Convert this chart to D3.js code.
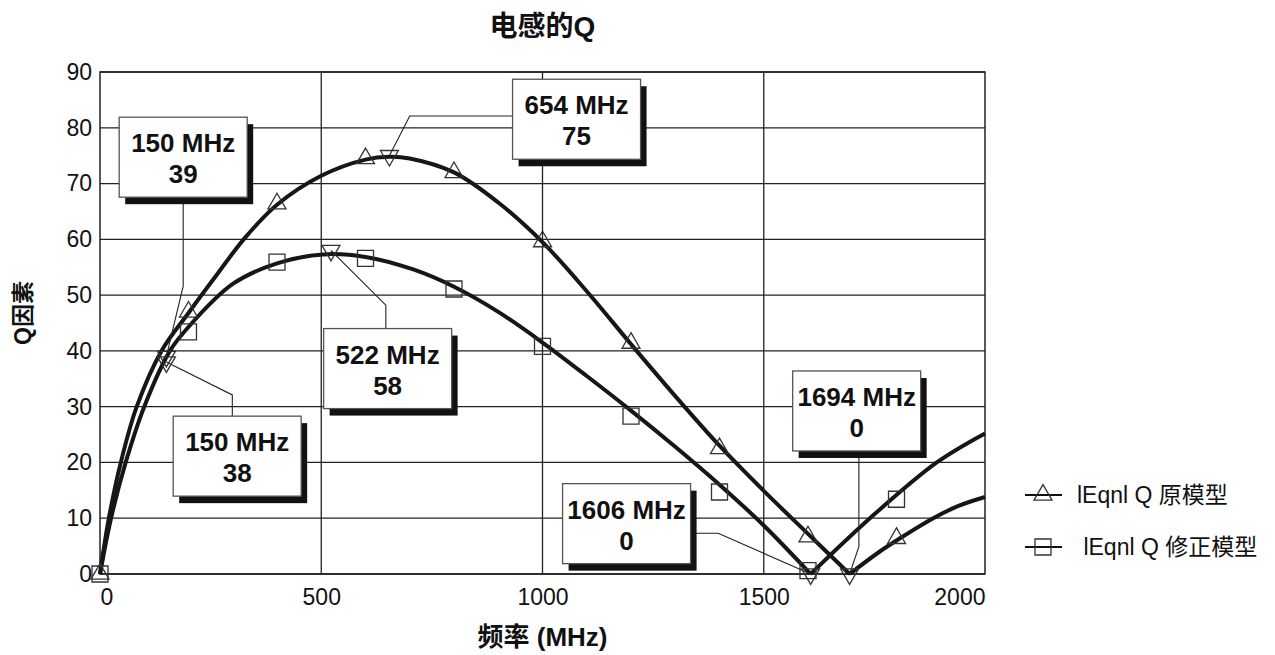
<!DOCTYPE html>
<html>
<head>
<meta charset="utf-8">
<script src="https://cdn.jsdelivr.net/npm/d3@7"></script>
<style>
  body { margin: 0; background: #fff; }
  svg text { font-family: "Liberation Sans", Arial, "Noto Sans CJK SC", sans-serif; fill: #111; }
</style>
</head>
<body>
<div id="chart"></div>
<script>
// ---- data ----
const freqTicks = [0, 500, 1000, 1500, 2000];
const qTicks = [0, 10, 20, 30, 40, 50, 60, 70, 80, 90];

// fitted curve |Q| for the original model (triangles)
const origCurveFreq = [0, 20, 47, 83, 139, 200, 255, 328, 400, 500, 600, 654, 700, 800, 900, 1000, 1100, 1200, 1300, 1400, 1500, 1600, 1694, 1760, 1808, 1883, 1940, 2000];
const origCurveQ    = [0, 10, 20, 30, 40, 46.8, 52.7, 60.3, 66.2, 71.4, 74.3, 74.8, 74.5, 72, 66.6, 59.5, 50.7, 41.2, 31.9, 23, 14.9, 7.2, 0, 3.9, 6.4, 10, 12.2, 13.8];

// fitted curve |Q| for the corrected model (squares)
const corrCurveFreq = [0, 25, 58, 100, 158, 200, 300, 400, 505, 603, 708, 800, 900, 1000, 1100, 1200, 1300, 1400, 1500, 1606, 1740, 1891, 2000];
const corrCurveQ    = [0, 10, 20, 30, 40, 44.3, 52, 55.7, 57.3, 56.8, 54.6, 51.5, 47, 41.5, 35.5, 29.3, 22.8, 16, 8.7, 0, 10, 20, 25.2];

// sample points
const markerFreqs = [0, 200, 400, 600, 800, 1000, 1200, 1400, 1600, 1800];
const origMarkerQ = [0, 47, 66.4, 74.5, 72, 59.6, 41.4, 22.5, 6.7, 6.4];
const corrMarkerQ = [0, 43.4, 55.9, 56.6, 51.1, 40.8, 28.3, 14.7, 0.6, 13.4];

// callouts
const calloutFreq = [150, 150, 654, 522, 1694, 1606];
const calloutQ    = [39, 38, 75, 58, 0, 0];

const legendLabels = ["lEqnl Q 原模型", " lEqnl Q 修正模型"];

function renderQChart(containerSelector) {
    const margin = { top: 72, right: 290, bottom: 81, left: 100 };
    const width = 1275 - margin.left - margin.right;
    const height = 655 - margin.top - margin.bottom;

    const svg = d3.select(containerSelector)
        .append("svg")
        .attr("width", 1275)
        .attr("height", 655);

    const g = svg.append("g")
        .attr("transform", `translate(${margin.left},${margin.top})`);

    const x = d3.scaleLinear().domain([0, 2000]).range([0, width]);
    const y = d3.scaleLinear().domain([0, 90]).range([height, 0]);

    // grid
    g.append("g").selectAll("line")
        .data(qTicks)
        .join("line")
        .attr("x1", 0).attr("x2", width)
        .attr("y1", d => y(d)).attr("y2", d => y(d))
        .attr("stroke", "#222").attr("stroke-width", 1.3);

    g.append("g").selectAll("line")
        .data(freqTicks.slice(1, -1))
        .join("line")
        .attr("x1", d => x(d)).attr("x2", d => x(d))
        .attr("y1", 0).attr("y2", height)
        .attr("stroke", "#222").attr("stroke-width", 1.3);

    g.append("rect")
        .attr("width", width).attr("height", height)
        .attr("fill", "none").attr("stroke", "#222").attr("stroke-width", 1.5);

    // axes
    const yAxis = g.append("g")
        .call(d3.axisLeft(y).tickValues(qTicks).tickFormat(d3.format("d")).tickSize(0).tickPadding(8));
    yAxis.select(".domain").remove();
    yAxis.attr("font-family", null).attr("font-size", null);
    yAxis.selectAll("text").style("font-size", "23px");

    const xAxis = g.append("g")
        .attr("transform", `translate(0,${height})`)
        .call(d3.axisBottom(x).tickValues(freqTicks).tickFormat(d3.format("d")).tickSize(0).tickPadding(15));
    xAxis.select(".domain").remove();
    xAxis.attr("font-family", null).attr("font-size", null);
    xAxis.selectAll("text").style("font-size", "23px")
        .attr("text-anchor", (d, i) => i === 0 ? "start" : (i === freqTicks.length - 1 ? "end" : "middle"));

    // curves, split at the zero crossing so the V stays sharp
    const line = d3.line()
        .x(d => x(d[0]))
        .y(d => y(d[1]))
        .curve(d3.curveCatmullRom.alpha(0.5));

    function splitAtZero(fs, qs) {
        const pts = fs.map((f, i) => [f, qs[i]]);
        const k = pts.findIndex((p, i) => i > 0 && p[1] === 0);
        return [pts.slice(0, k + 1), pts.slice(k)];
    }

    [splitAtZero(origCurveFreq, origCurveQ), splitAtZero(corrCurveFreq, corrCurveQ)]
        .forEach(parts => {
            g.append("g").selectAll("path")
                .data(parts)
                .join("path")
                .attr("d", line)
                .attr("fill", "none")
                .attr("stroke", "#161616")
                .attr("stroke-width", 4);
        });

    // markers
    const tri = d3.symbol(d3.symbolTriangle, 140);
    const sq = d3.symbol(d3.symbolSquare, 256);

    g.append("g").selectAll("path")
        .data(markerFreqs)
        .join("path")
        .attr("d", tri)
        .attr("transform", (d, i) => `translate(${x(d)},${y(origMarkerQ[i])})`)
        .attr("fill", "none").attr("stroke", "#333").attr("stroke-width", 1.3);

    g.append("g").selectAll("path")
        .data(markerFreqs)
        .join("path")
        .attr("d", sq)
        .attr("transform", (d, i) => `translate(${x(d)},${y(corrMarkerQ[i])})`)
        .attr("fill", "none").attr("stroke", "#333").attr("stroke-width", 1.3);

    // callouts: box position and leader elbows given in data units
    const calloutLayout = [
        { cx: 188, top: 81.9, lead: [[188, 67.6], [188, 51.6]] },
        { cx: 310, top: 28.3, lead: [[299, 28.3], [299, 32.1]] },
        { cx: 1077, top: 88.7, lead: [[932, 82.1], [700, 82.1]] },
        { cx: 650, top: 44, lead: [[646, 44], [646, 48.2]] },
        { cx: 1710, top: 36.4, lead: [[1715, 22.1], [1715, 4.9]] },
        { cx: 1190, top: 16.2, lead: [[1335, 7.3], [1397, 7.3]] }
    ];
    const boxW = 128, boxH = 80;

    const leaders = g.append("g");
    const callouts = g.append("g");

    calloutFreq.forEach((f, i) => {
        const q = calloutQ[i];
        const lay = calloutLayout[i];

        leaders.append("path")
            .attr("d", d3.line()(lay.lead.concat([[f, q]]).map(p => [x(p[0]), y(p[1])])))
            .attr("fill", "none").attr("stroke", "#222").attr("stroke-width", 1.1);

        leaders.append("path")
            .attr("d", tri)
            .attr("transform", `translate(${x(f)},${y(q)}) rotate(180)`)
            .attr("fill", "none").attr("stroke", "#333").attr("stroke-width", 1.3);

        const box = callouts.append("g")
            .attr("transform", `translate(${x(lay.cx) - boxW / 2},${y(lay.top)})`);
        box.append("rect")
            .attr("x", 6).attr("y", 7)
            .attr("width", boxW).attr("height", boxH)
            .attr("fill", "#111");
        box.append("rect")
            .attr("width", boxW).attr("height", boxH)
            .attr("fill", "#fff").attr("stroke", "#555").attr("stroke-width", 1.3);
        box.append("text")
            .attr("x", boxW / 2).attr("y", 35)
            .attr("text-anchor", "middle")
            .style("font-size", "26px").style("font-weight", "bold")
            .text(`${f} MHz`);
        box.append("text")
            .attr("x", boxW / 2).attr("y", 66)
            .attr("text-anchor", "middle")
            .style("font-size", "26px").style("font-weight", "bold")
            .text(q);
    });

    // titles
    svg.append("text")
        .attr("x", margin.left + width / 2).attr("y", 36)
        .attr("text-anchor", "middle")
        .style("font-size", "28px").style("font-weight", "bold")
        .text("电感的Q");

    svg.append("text")
        .attr("x", margin.left + width / 2).attr("y", 646)
        .attr("text-anchor", "middle")
        .style("font-size", "26px").style("font-weight", "bold")
        .text("频率 (MHz)");

    svg.append("text")
        .attr("transform", `translate(31,${margin.top + height / 2 - 10}) rotate(-90)`)
        .attr("text-anchor", "middle")
        .style("font-size", "23px").style("font-weight", "bold")
        .text("Q因素");

    // legend
    const legend = svg.append("g")
        .attr("transform", `translate(${margin.left + width + 40},495)`);
    legendLabels.forEach((label, i) => {
        const row = legend.append("g").attr("transform", `translate(0,${i * 52})`);
        row.append("line")
            .attr("x1", 0).attr("x2", 37)
            .attr("stroke", "#111").attr("stroke-width", 2);
        row.append("path")
            .attr("d", i === 0 ? tri : sq)
            .attr("transform", "translate(18,0)")
            .attr("fill", "none").attr("stroke", "#333").attr("stroke-width", 1.3);
        row.append("text")
            .attr("x", 52).attr("y", 8)
            .style("font-size", "23px")
            .style("white-space", "pre")
            .attr("xml:space", "preserve")
            .text(label);
    });
}

renderQChart("#chart");
</script>
</body>
</html>
